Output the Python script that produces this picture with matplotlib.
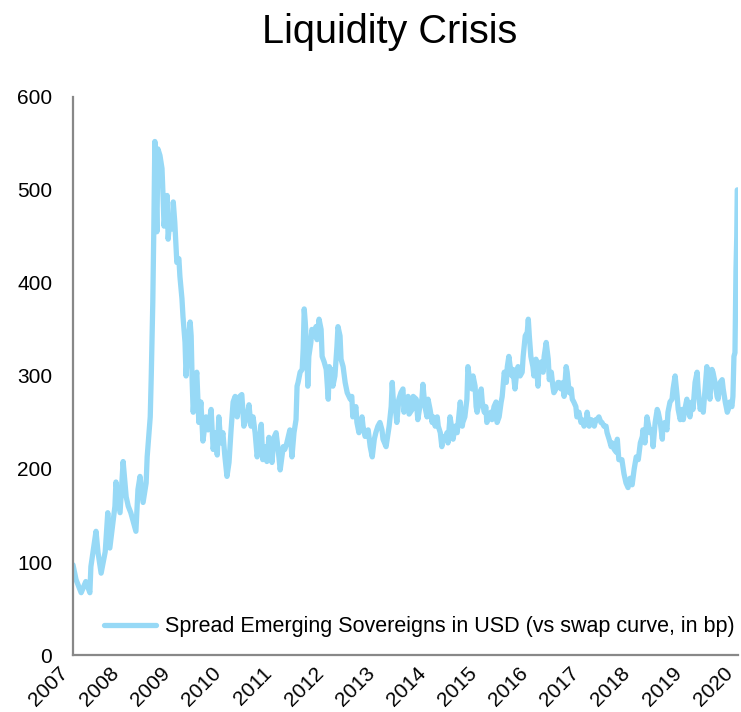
import matplotlib.pyplot as plt
from matplotlib.transforms import ScaledTranslation

# Spread of emerging-market sovereigns in USD vs swap curve (bp), read as (fractional year, bp)
years = [
    2007.00, 2007.06, 2007.16, 2007.25, 2007.33, 2007.35, 2007.45, 2007.49, 2007.55, 2007.63,
    2007.68, 2007.72, 2007.82, 2007.84, 2007.92, 2007.98, 2008.04, 2008.08, 2008.13, 2008.23,
    2008.27, 2008.31, 2008.37, 2008.43, 2008.45, 2008.51, 2008.53, 2008.56, 2008.57, 2008.58,
    2008.60, 2008.64, 2008.66, 2008.70, 2008.74, 2008.76, 2008.78, 2008.84, 2008.86, 2008.90,
    2008.94, 2008.96, 2008.99, 2009.03, 2009.07, 2009.09, 2009.13, 2009.15, 2009.19, 2009.21,
    2009.25, 2009.29, 2009.31, 2009.33, 2009.35, 2009.39, 2009.42, 2009.46, 2009.50, 2009.54,
    2009.60, 2009.64, 2009.70, 2009.74, 2009.78, 2009.82, 2009.85, 2009.89, 2009.93, 2009.97,
    2010.01, 2010.05, 2010.09, 2010.13, 2010.17, 2010.21, 2010.26, 2010.30, 2010.34, 2010.40,
    2010.44, 2010.48, 2010.52, 2010.56, 2010.60, 2010.64, 2010.68, 2010.71, 2010.75, 2010.79,
    2010.83, 2010.89, 2010.93, 2010.97, 2011.01, 2011.05, 2011.11, 2011.14, 2011.18, 2011.24,
    2011.28, 2011.32, 2011.36, 2011.38, 2011.40, 2011.44, 2011.48, 2011.50, 2011.52, 2011.54,
    2011.57, 2011.59, 2011.61, 2011.65, 2011.67, 2011.71, 2011.75, 2011.77, 2011.81, 2011.85,
    2011.87, 2011.91, 2011.95, 2011.99, 2012.01, 2012.02, 2012.06, 2012.08, 2012.12, 2012.16,
    2012.18, 2012.22, 2012.24, 2012.28, 2012.32, 2012.36, 2012.42, 2012.45, 2012.47, 2012.53,
    2012.55, 2012.59, 2012.65, 2012.67, 2012.71, 2012.77, 2012.81, 2012.85, 2012.89, 2012.92,
    2012.96, 2013.00, 2013.04, 2013.06, 2013.12, 2013.16, 2013.18, 2013.22, 2013.24, 2013.26,
    2013.30, 2013.33, 2013.37, 2013.41, 2013.45, 2013.47, 2013.51, 2013.55, 2013.57, 2013.63,
    2013.65, 2013.71, 2013.74, 2013.78, 2013.82, 2013.84, 2013.88, 2013.92, 2013.94, 2013.98,
    2014.02, 2014.04, 2014.08, 2014.12, 2014.14, 2014.18, 2014.21, 2014.23, 2014.27, 2014.31,
    2014.33, 2014.37, 2014.41, 2014.43, 2014.47, 2014.51, 2014.53, 2014.57, 2014.61, 2014.62,
    2014.66, 2014.70, 2014.72, 2014.76, 2014.80, 2014.82, 2014.86, 2014.88, 2014.90, 2014.94,
    2014.98, 2015.00, 2015.04, 2015.07, 2015.09, 2015.13, 2015.17, 2015.19, 2015.23, 2015.27,
    2015.29, 2015.33, 2015.37, 2015.39, 2015.43, 2015.47, 2015.49, 2015.52, 2015.56, 2015.58,
    2015.60, 2015.64, 2015.68, 2015.70, 2015.74, 2015.78, 2015.80, 2015.84, 2015.88, 2015.90,
    2015.92, 2015.95, 2015.99, 2016.01, 2016.05, 2016.09, 2016.11, 2016.15, 2016.19, 2016.21,
    2016.25, 2016.29, 2016.31, 2016.35, 2016.38, 2016.40, 2016.44, 2016.48, 2016.50, 2016.54,
    2016.58, 2016.60, 2016.64, 2016.66, 2016.70, 2016.74, 2016.76, 2016.79, 2016.83, 2016.85,
    2016.89, 2016.93, 2016.95, 2016.99, 2017.03, 2017.05, 2017.09, 2017.13, 2017.15, 2017.19,
    2017.22, 2017.24, 2017.28, 2017.32, 2017.34, 2017.38, 2017.42, 2017.44, 2017.48, 2017.52,
    2017.54, 2017.58, 2017.62, 2017.64, 2017.67, 2017.73, 2017.77, 2017.81, 2017.85, 2017.89,
    2017.93, 2017.97, 2018.01, 2018.05, 2018.09, 2018.13, 2018.14, 2018.18, 2018.22, 2018.24,
    2018.28, 2018.32, 2018.34, 2018.38, 2018.42, 2018.44, 2018.48, 2018.52, 2018.53, 2018.57,
    2018.61, 2018.63, 2018.67, 2018.71, 2018.73, 2018.77, 2018.81, 2018.83, 2018.87, 2018.91,
    2018.93, 2018.96, 2019.00, 2019.02, 2019.06, 2019.10, 2019.12, 2019.16, 2019.20, 2019.22,
    2019.26, 2019.30, 2019.32, 2019.36, 2019.39, 2019.41, 2019.45, 2019.49, 2019.51, 2019.55,
    2019.59, 2019.61, 2019.65, 2019.69, 2019.71, 2019.75, 2019.79, 2019.81, 2019.84, 2019.88,
    2019.90, 2019.92, 2019.94, 2019.96, 2019.975, 2019.985,
]
spread_bp = [
    97, 81, 67, 79, 67, 95, 133, 110, 88, 111,
    153, 115, 160, 186, 153, 208, 170, 160, 153, 133,
    178, 192, 164, 185, 213, 256, 300, 379, 415, 458,
    552, 455, 544, 537, 523, 494, 461, 494, 447, 472,
    458, 487, 465, 422, 426, 407, 383, 364, 336, 300,
    336, 358, 343, 293, 261, 293, 304, 250, 272, 230,
    256, 242, 264, 221, 239, 215, 256, 228, 239, 213,
    192, 207, 242, 272, 278, 256, 278, 280, 246, 256,
    269, 246, 256, 239, 213, 228, 248, 210, 224, 208,
    234, 207, 234, 239, 221, 199, 224, 221, 228, 242,
    213, 239, 253, 289, 293, 304, 307, 329, 372, 358,
    329, 289, 321, 336, 350, 343, 353, 339, 361, 350,
    321, 315, 307, 275, 310, 289, 307, 289, 300, 332,
    353, 343, 318, 310, 293, 282, 275, 278, 256, 267,
    250, 239, 256, 246, 235, 242, 224, 213, 232, 239,
    246, 250, 242, 232, 224, 239, 246, 267, 293, 275,
    267, 250, 275, 282, 286, 261, 275, 278, 259, 264,
    278, 275, 253, 267, 275, 291, 267, 256, 275, 264,
    250, 256, 246, 256, 246, 239, 224, 235, 232, 239,
    228, 256, 242, 232, 246, 239, 250, 272, 246, 250,
    256, 275, 310, 293, 286, 300, 289, 267, 261, 272,
    286, 272, 261, 267, 250, 256, 261, 253, 267, 272,
    250, 256, 272, 278, 304, 293, 310, 321, 304, 300,
    307, 286, 307, 310, 300, 304, 321, 343, 347, 361,
    343, 321, 310, 300, 318, 289, 310, 315, 304, 321,
    336, 318, 296, 304, 289, 282, 286, 293, 293, 286,
    293, 278, 310, 304, 282, 286, 275, 272, 267, 256,
    261, 250, 253, 246, 250, 261, 246, 253, 250, 246,
    253, 253, 256, 250, 250, 246, 246, 239, 232, 224,
    228, 221, 218, 232, 210, 210, 195, 185, 180, 190,
    183, 200, 213, 210, 228, 235, 242, 228, 256, 250,
    239, 242, 224, 250, 264, 261, 250, 232, 246, 250,
    242, 261, 272, 275, 286, 300, 278, 264, 253, 264,
    253, 264, 275, 264, 256, 272, 264, 293, 304, 286,
    264, 272, 261, 289, 310, 293, 275, 307, 304, 293,
    278, 275, 293, 296, 286, 272, 261, 264, 272, 267,
    278, 321, 325, 415, 450, 500,
]
year_ticks = list(range(2007, 2021))
y_ticks = [0, 100, 200, 300, 400, 500, 600]
series_label = 'Spread Emerging Sovereigns in USD (vs swap curve, in bp)'

plt.rcParams['font.family'] = ['Liberation Sans', 'DejaVu Sans']

fig = plt.figure(figsize=(7.41, 7.12), dpi=100)
ax = fig.add_axes([0.0985, 0.080, 0.8975, 0.784])

ax.plot(years, spread_bp, color='#97D9F6', linewidth=3.8,
        solid_joinstyle='round', solid_capstyle='round', label=series_label)

ax.set_xlim(2007, 2020)
ax.set_ylim(0, 600)
ax.set_xticks(year_ticks)
ax.set_xticklabels([str(y) for y in year_ticks], rotation=45, ha='right',
                   va='center', rotation_mode='anchor')
ax.set_yticks(y_ticks)
ax.tick_params(axis='both', length=0, labelsize=15)
ax.tick_params(axis='y', pad=15)
ax.tick_params(axis='x', pad=11)

# nudge the slanted year labels left so their ends sit on the ticks
shift = ScaledTranslation(-6 / 72, 0, fig.dpi_scale_trans)
for lbl in ax.get_xticklabels():
    lbl.set_transform(lbl.get_transform() + shift)

for side in ['top', 'right']:
    ax.spines[side].set_visible(False)
for side in ['left', 'bottom']:
    ax.spines[side].set_color('#888888')
    ax.spines[side].set_linewidth(1.6)

ax.legend(loc='lower right', frameon=False, fontsize=15.5,
          handlelength=2.4, handletextpad=0.4, borderaxespad=0.3,
          bbox_to_anchor=(1.017, 0.005))

fig.suptitle('Liquidity Crisis', fontsize=28.5, x=0.526, y=0.982)

fig.savefig('out.png', dpi=100, facecolor='white')
